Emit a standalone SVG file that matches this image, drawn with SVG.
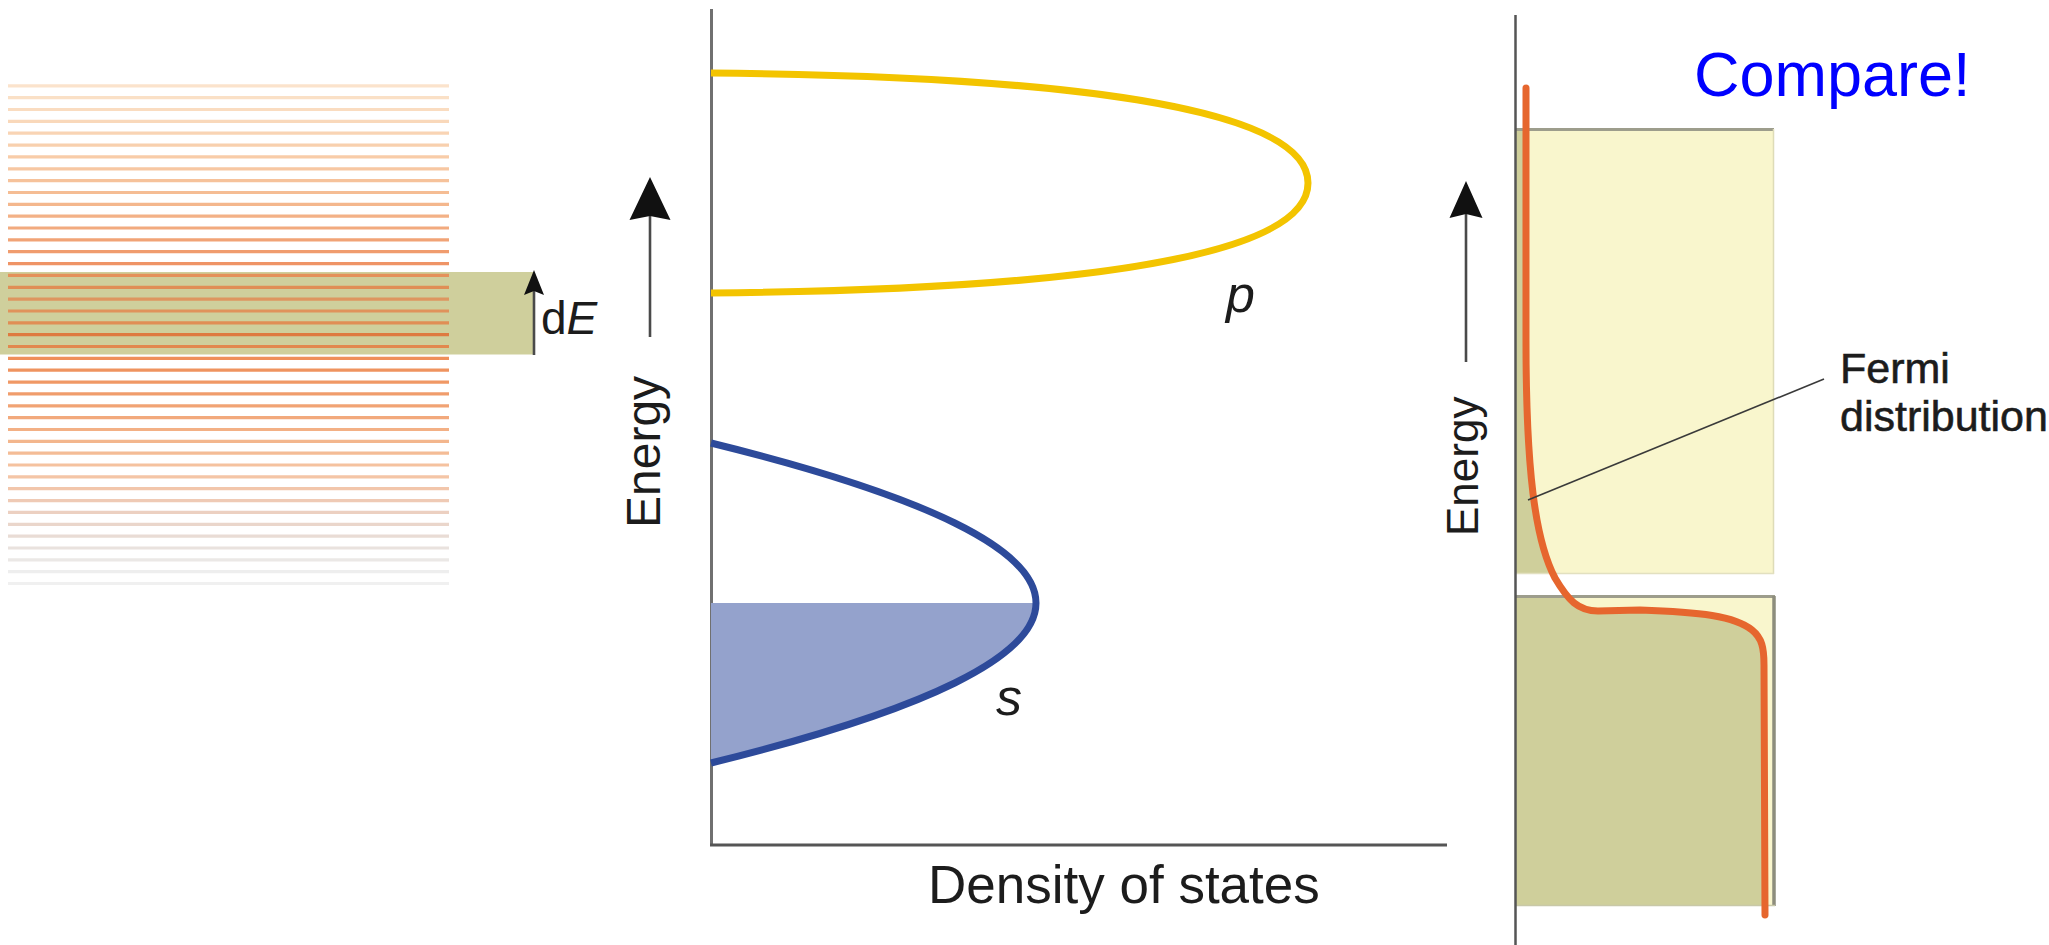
<svg xmlns="http://www.w3.org/2000/svg" width="2049" height="945" viewBox="0 0 2049 945">
<style>
text{font-family:"Liberation Sans",Arial,Helvetica,sans-serif;fill:#1c1c1c}
.lvl line{stroke-width:3.2}
.axis{stroke:#707070;stroke-width:3;fill:none}
.shaft{stroke:#4a4a4a;stroke-width:2.6;fill:none}
.head{fill:#111}
.pband{stroke:#f3c400;stroke-width:7;fill:none}
.sband{stroke:#2d4a9a;stroke-width:7;fill:none}
.fermi{stroke:#e6662e;stroke-width:7;fill:none;stroke-linecap:round;stroke-linejoin:round}
.lead{stroke:#3a3a3a;stroke-width:1.6}
.semi{stroke:#1c1c1c;stroke-width:0.6}
</style>
<defs>
<clipPath id="rects">
<rect x="1515" y="129" width="259" height="445"/>
<rect x="1515" y="596" width="259" height="310"/>
</clipPath>
</defs>

<g id="dE-band">
<rect x="0" y="272" width="534" height="82.5" fill="#cfcf9c"/>
</g>

<g id="energy-levels" class="lvl">
<line x1="8" x2="449" y1="85.8" y2="85.8" stroke="#fbe3cc"/>
<line x1="8" x2="449" y1="97.7" y2="97.7" stroke="#fae0c6"/>
<line x1="8" x2="449" y1="109.5" y2="109.5" stroke="#fadcc0"/>
<line x1="8" x2="449" y1="121.4" y2="121.4" stroke="#f9d8ba"/>
<line x1="8" x2="449" y1="133.2" y2="133.2" stroke="#f9d4b4"/>
<line x1="8" x2="449" y1="145.1" y2="145.1" stroke="#f8d0ae"/>
<line x1="8" x2="449" y1="156.9" y2="156.9" stroke="#f8cca8"/>
<line x1="8" x2="449" y1="168.8" y2="168.8" stroke="#f7c7a2"/>
<line x1="8" x2="449" y1="180.6" y2="180.6" stroke="#f6c29b"/>
<line x1="8" x2="449" y1="192.5" y2="192.5" stroke="#f5bd94"/>
<line x1="8" x2="449" y1="204.3" y2="204.3" stroke="#f4b78d"/>
<line x1="8" x2="449" y1="216.2" y2="216.2" stroke="#f3b186"/>
<line x1="8" x2="449" y1="228.0" y2="228.0" stroke="#f2aa7e"/>
<line x1="8" x2="449" y1="239.9" y2="239.9" stroke="#f1a376"/>
<line x1="8" x2="449" y1="251.7" y2="251.7" stroke="#f09c6e"/>
<line x1="8" x2="449" y1="263.6" y2="263.6" stroke="#ef9466"/>
<line x1="8" x2="449" y1="275.4" y2="275.4" stroke="#e4915a"/>
<line x1="8" x2="449" y1="287.3" y2="287.3" stroke="#e08e55"/>
<line x1="8" x2="449" y1="299.1" y2="299.1" stroke="#de9660"/>
<line x1="8" x2="449" y1="311.0" y2="311.0" stroke="#e0925b"/>
<line x1="8" x2="449" y1="322.8" y2="322.8" stroke="#e08e55"/>
<line x1="8" x2="449" y1="334.7" y2="334.7" stroke="#de7a40"/>
<line x1="8" x2="449" y1="346.5" y2="346.5" stroke="#e2884e"/>
<line x1="8" x2="449" y1="358.4" y2="358.4" stroke="#ef8f5a"/>
<line x1="8" x2="449" y1="370.2" y2="370.2" stroke="#ef935f"/>
<line x1="8" x2="449" y1="382.1" y2="382.1" stroke="#f09865"/>
<line x1="8" x2="449" y1="393.9" y2="393.9" stroke="#f09d6c"/>
<line x1="8" x2="449" y1="405.8" y2="405.8" stroke="#f1a374"/>
<line x1="8" x2="449" y1="417.6" y2="417.6" stroke="#f2a97c"/>
<line x1="8" x2="449" y1="429.5" y2="429.5" stroke="#f3b085"/>
<line x1="8" x2="449" y1="441.3" y2="441.3" stroke="#f3b68d"/>
<line x1="8" x2="449" y1="453.2" y2="453.2" stroke="#f4bc96"/>
<line x1="8" x2="449" y1="465.0" y2="465.0" stroke="#f5c29f"/>
<line x1="8" x2="449" y1="476.9" y2="476.9" stroke="#f4c5a6"/>
<line x1="8" x2="449" y1="488.7" y2="488.7" stroke="#f2c6ab"/>
<line x1="8" x2="449" y1="500.6" y2="500.6" stroke="#efcab5"/>
<line x1="8" x2="449" y1="512.4" y2="512.4" stroke="#ecd0c1"/>
<line x1="8" x2="449" y1="524.3" y2="524.3" stroke="#ead6cb"/>
<line x1="8" x2="449" y1="536.1" y2="536.1" stroke="#e9dcd5"/>
<line x1="8" x2="449" y1="548.0" y2="548.0" stroke="#e9e2de"/>
<line x1="8" x2="449" y1="559.8" y2="559.8" stroke="#ebe8e6"/>
<line x1="8" x2="449" y1="571.7" y2="571.7" stroke="#eeeeee"/>
<line x1="8" x2="449" y1="583.5" y2="583.5" stroke="#f0f0f0"/>
</g>

<g id="dos-axes">
<line class="axis" x1="711.5" y1="9" x2="711.5" y2="846"/>
<line class="axis" x1="710" y1="845" x2="1447" y2="845" style="stroke:#555"/>
</g>

<g id="s-band">
<path d="M711,603 L1036,603 Q1036,683 711,763 Z" fill="#94a2cc"/>
<path class="sband" d="M711,443 Q1361,603 711,763"/>
</g>

<g id="p-band">
<path class="pband" d="M711,73 C1050,76 1308,105 1308,183 C1308,261 1050,290 711,293"/>
</g>

<g id="fermi-panel">
<rect x="1515" y="129" width="259" height="445" fill="#f9f6cd"/>
<rect x="1515" y="596" width="259" height="310" fill="#f9f6cd"/>
<path clip-path="url(#rects)" fill="#cfcf9b" d="M1515,80 L1526,80 L1526,340 C1526,470 1535,540 1555,578 C1568,600 1578,611 1598,611 L1640,610 C1700,612 1735,616 1752,630 C1762,638 1764,648 1764,665 L1765,915 L1515,915 Z"/>
<line x1="1515" y1="129.5" x2="1774" y2="129.5" stroke="#9d9d8c" stroke-width="3"/>
<line x1="1773.5" y1="129" x2="1773.5" y2="574" stroke="#dedcb8" stroke-width="1.5"/>
<line x1="1515" y1="573.5" x2="1774" y2="573.5" stroke="#e2e0c0" stroke-width="1.5"/>
<line x1="1515" y1="596.5" x2="1775" y2="596.5" stroke="#9d9d8c" stroke-width="3"/>
<line x1="1774" y1="596" x2="1774" y2="906" stroke="#8d8d7d" stroke-width="3.5"/>
<line x1="1515" y1="905.5" x2="1775" y2="905.5" stroke="#c8c8a8" stroke-width="1.5"/>
<line x1="1515.5" y1="15" x2="1515.5" y2="945" stroke="#555" stroke-width="2.5"/>
<path class="fermi" d="M1526,88 L1526,340 C1526,470 1535,540 1555,578 C1568,600 1578,611 1598,611 L1640,610 C1700,612 1735,616 1752,630 C1762,638 1764,648 1764,665 L1765,915"/>
</g>

<g id="connectors">
<line class="shaft" x1="534" y1="355" x2="534" y2="288"/>
<polygon class="head" points="534,270 544,295 534,291 524,295"/>
<line class="shaft" x1="650" y1="337" x2="650" y2="214"/>
<polygon class="head" points="650,177 670.5,220 650,216 629.5,220"/>
<line class="shaft" x1="1466" y1="362" x2="1466" y2="213"/>
<polygon class="head" points="1466,181 1482.5,218 1466,214 1449.5,218"/>
<line class="lead" x1="1528" y1="500" x2="1824" y2="379"/>
</g>

<g id="labels">
<text x="541" y="334" font-size="46">d<tspan font-style="italic">E</tspan></text>
<text transform="translate(660,528) rotate(-90)" font-size="48">Energy</text>
<text x="1226" y="312" font-size="52" font-style="italic">p</text>
<text x="996" y="715" font-size="52" font-style="italic">s</text>
<text x="928" y="903" font-size="53">Density of states</text>
<text transform="translate(1478,536) rotate(-90)" font-size="44">Energy</text>
<text class="semi" x="1840" y="383" font-size="43">Fermi</text>
<text class="semi" x="1840" y="431" font-size="43">distribution</text>
<text x="1694" y="96" font-size="63" style="fill:#0000ff">Compare!</text>
</g>
</svg>
